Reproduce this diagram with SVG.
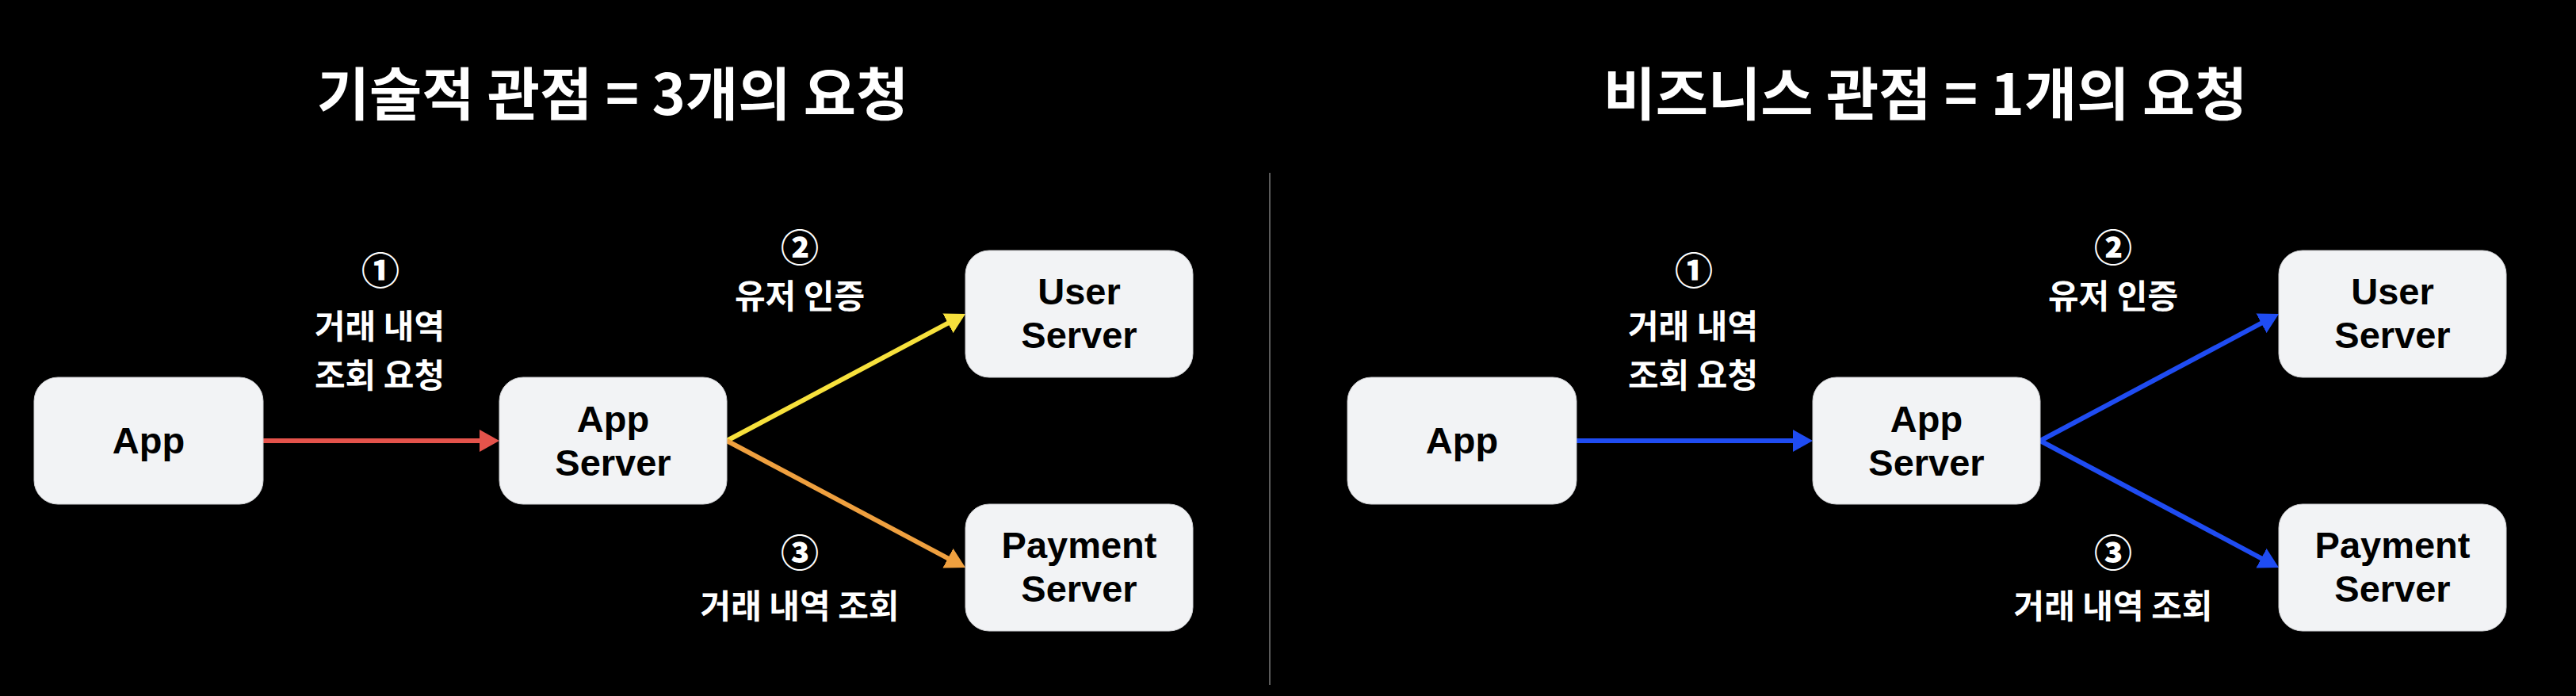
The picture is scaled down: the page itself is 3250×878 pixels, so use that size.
<svg xmlns="http://www.w3.org/2000/svg" width="3250" height="878" viewBox="0 0 3250 878">
<style>
.title{font-family:"Noto Sans CJK KR","Noto Sans",sans-serif;font-size:72px;font-weight:700;fill:#ffffff;text-anchor:middle}
.lbl{font-family:"Noto Sans CJK KR","Noto Sans",sans-serif;font-size:42px;font-weight:700;fill:#ffffff;text-anchor:middle}
.num{font-family:"Noto Sans CJK KR","Noto Sans",sans-serif;font-size:48px;font-weight:900;fill:#ffffff;text-anchor:middle}
.box{fill:#f2f3f5;stroke:#cfd0d3;stroke-width:1}
.nt{font-family:"Liberation Sans",Arial,sans-serif;font-size:47px;font-weight:700;fill:#000000;text-anchor:middle}
.edge{fill:none;stroke-width:6}
</style>
<defs>
<marker id="mRed" markerUnits="userSpaceOnUse" markerWidth="26" markerHeight="28" refX="15" refY="14" orient="auto"><path d="M0,0 L25,14 L0,28 Z" fill="#e5534b"/></marker>
<marker id="mYel" markerUnits="userSpaceOnUse" markerWidth="26" markerHeight="28" refX="15" refY="14" orient="auto"><path d="M0,0 L25,14 L0,28 Z" fill="#f7e13c"/></marker>
<marker id="mOra" markerUnits="userSpaceOnUse" markerWidth="26" markerHeight="28" refX="15" refY="14" orient="auto"><path d="M0,0 L25,14 L0,28 Z" fill="#efa03f"/></marker>
<marker id="mBlu" markerUnits="userSpaceOnUse" markerWidth="26" markerHeight="28" refX="15" refY="14" orient="auto"><path d="M0,0 L25,14 L0,28 Z" fill="#1f4cf2"/></marker>
</defs>
<rect x="0" y="0" width="3250" height="878" fill="#000000"/>

<g id="titles">
<text class="title" x="773" y="145">기술적 관점 = 3개의 요청</text>
<text class="title" x="2429" y="145">비즈니스 관점 = 1개의 요청</text>
</g>

<line id="divider" x1="1602" y1="218" x2="1602" y2="864" stroke="#5a5a5a" stroke-width="2"/>

<g id="connectors">
<path class="edge" stroke="#e5534b" d="M332,556 L620,556" marker-end="url(#mRed)"/>
<path class="edge" stroke="#f7e13c" d="M917,556 L1209.2,400.7" marker-end="url(#mYel)"/>
<path class="edge" stroke="#efa03f" d="M917,556 L1209.2,711.3" marker-end="url(#mOra)"/>
<path class="edge" stroke="#1f4cf2" d="M1989,556 L2277,556" marker-end="url(#mBlu)"/>
<path class="edge" stroke="#1f4cf2" d="M2574,556 L2866.2,400.7" marker-end="url(#mBlu)"/>
<path class="edge" stroke="#1f4cf2" d="M2574,556 L2866.2,711.3" marker-end="url(#mBlu)"/>
</g>

<g id="labels">
<text class="num" x="480" y="359">①</text>
<text class="lbl" x="479" y="427">거래 내역</text>
<text class="lbl" x="479" y="489">조회 요청</text>
<text class="num" x="1009" y="330">②</text>
<text class="lbl" x="1009" y="389">유저 인증</text>
<text class="num" x="1009" y="715">③</text>
<text class="lbl" x="1009" y="780">거래 내역 조회</text>

<text class="num" x="2137" y="359">①</text>
<text class="lbl" x="2136" y="427">거래 내역</text>
<text class="lbl" x="2136" y="489">조회 요청</text>
<text class="num" x="2666" y="330">②</text>
<text class="lbl" x="2666" y="389">유저 인증</text>
<text class="num" x="2666" y="715">③</text>
<text class="lbl" x="2666" y="780">거래 내역 조회</text>
</g>

<g id="app-l"><rect class="box" x="43" y="476" width="289" height="160" rx="30"/><text class="nt" x="187.5" y="572">App</text></g>
<g id="appserver-l"><rect class="box" x="630" y="476" width="287" height="160" rx="30"/><text class="nt" x="773.5" y="545">App</text><text class="nt" x="773.5" y="600">Server</text></g>
<g id="userserver-l"><rect class="box" x="1218" y="316" width="287" height="160" rx="30"/><text class="nt" x="1361.5" y="384">User</text><text class="nt" x="1361.5" y="439">Server</text></g>
<g id="paymentserver-l"><rect class="box" x="1218" y="636" width="287" height="160" rx="30"/><text class="nt" x="1361.5" y="704">Payment</text><text class="nt" x="1361.5" y="759">Server</text></g>

<g id="app-r"><rect class="box" x="1700" y="476" width="289" height="160" rx="30"/><text class="nt" x="1844.5" y="572">App</text></g>
<g id="appserver-r"><rect class="box" x="2287" y="476" width="287" height="160" rx="30"/><text class="nt" x="2430.5" y="545">App</text><text class="nt" x="2430.5" y="600">Server</text></g>
<g id="userserver-r"><rect class="box" x="2875" y="316" width="287" height="160" rx="30"/><text class="nt" x="3018.5" y="384">User</text><text class="nt" x="3018.5" y="439">Server</text></g>
<g id="paymentserver-r"><rect class="box" x="2875" y="636" width="287" height="160" rx="30"/><text class="nt" x="3018.5" y="704">Payment</text><text class="nt" x="3018.5" y="759">Server</text></g>
</svg>
